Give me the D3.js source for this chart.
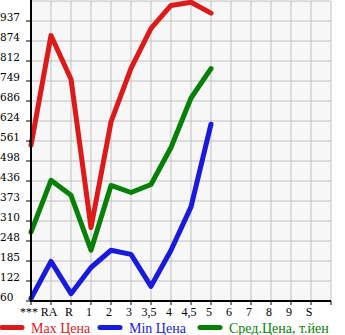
<!DOCTYPE html>
<html>
<head>
<meta charset="utf-8">
<script src="https://cdn.jsdelivr.net/npm/d3@7"></script>
<style>
  body { margin: 0; background: #fff; }
  text { font-family: "Liberation Serif", "DejaVu Serif", serif; }
</style>
</head>
<body>
<div id="chart"></div>
<script>
// categories on the x axis
var categories = ["***", "RA", "R", "1", "2", "3", "3,5", "4", "4,5", "5", "6", "7", "8", "9", "S"];
// y tick labels as printed
var yTickLabels = ["60", "122", "185", "248", "310", "373", "436", "498", "561", "624", "686", "749", "812", "874", "937"];

// series (only the first 10 categories have values)
var maxPrice = [548, 892, 755, 290, 621, 789, 914, 986, 996, 962];
var minPrice = [68, 184, 83, 165, 219, 206, 106, 219, 355, 614];
var avgPrice = [276, 438, 391, 219, 422, 400, 425, 541, 696, 788];

var seriesNames = ["Max Цена", "Min Цена", "Сред.Цена, т.йен"];
var seriesColors = ["#dd1a1a", "#1a1add", "#068006"];

var margin = {top: 1, left: 31},
    width = 300,
    height = 300;

var svg = d3.select("#chart").append("svg")
    .attr("width", 345)
    .attr("height", 335);

var g = svg.append("g")
    .attr("transform", "translate(" + margin.left + "," + margin.top + ")");

var x = d3.scalePoint().domain(categories).range([0, 280]);
var y = d3.scaleLinear().domain([60, 1000]).range([height, 0]);
var yTicks = d3.range(15).map(function(i) { return 60 + i * (940 / 15); });

// plot background
g.append("rect")
    .attr("width", width)
    .attr("height", height)
    .attr("fill", "#f7f7f7");

// grid
g.selectAll(".vgrid")
    .data(categories.slice(1).concat(["end"]))
  .enter().append("line")
    .attr("x1", function(d, i) { return 20 * (i + 1); })
    .attr("x2", function(d, i) { return 20 * (i + 1); })
    .attr("y1", 0)
    .attr("y2", height)
    .attr("stroke", "#c0c0c0")
    .attr("stroke-width", 1);

g.selectAll(".hgrid")
    .data(yTicks.slice(1).concat([1000]))
  .enter().append("line")
    .attr("x1", 0)
    .attr("x2", width)
    .attr("y1", function(d) { return y(d); })
    .attr("y2", function(d) { return y(d); })
    .attr("stroke", "#c0c0c0")
    .attr("stroke-width", 1);

// lines
var line = d3.line()
    .x(function(d, i) { return x(categories[i]); })
    .y(function(d) { return y(d); });

[maxPrice, minPrice, avgPrice].forEach(function(s, k) {
  g.append("path")
      .datum(s)
      .attr("fill", "none")
      .attr("stroke", seriesColors[k])
      .attr("stroke-width", 5)
      .attr("stroke-linejoin", "round")
      .attr("stroke-linecap", "round")
      .attr("d", line);
});

// y axis
g.append("line")
    .attr("x1", 0).attr("x2", 0)
    .attr("y1", -1).attr("y2", height)
    .attr("stroke", "#000").attr("stroke-width", 2);

g.selectAll(".ytick")
    .data(yTicks)
  .enter().append("line")
    .attr("x1", -5).attr("x2", 0)
    .attr("y1", function(d) { return y(d); })
    .attr("y2", function(d) { return y(d); })
    .attr("stroke", "#000").attr("stroke-width", 1);

g.selectAll(".ylabel")
    .data(yTicks)
  .enter().append("text")
    .attr("x", -margin.left)
    .attr("y", function(d) { return y(d); })
    .attr("font-size", 10.5)
    .style("font-family", "'DejaVu Serif', serif")
    .attr("fill", "#000")
    .text(function(d, i) { return yTickLabels[i]; });

// x axis
g.append("line")
    .attr("x1", -1).attr("x2", width)
    .attr("y1", height).attr("y2", height)
    .attr("stroke", "#000").attr("stroke-width", 2);

g.selectAll(".xtick")
    .data(categories.concat(["end"]))
  .enter().append("line")
    .attr("x1", function(d, i) { return 20 * i; })
    .attr("x2", function(d, i) { return 20 * i; })
    .attr("y1", height).attr("y2", height + 4)
    .attr("stroke", "#000").attr("stroke-width", 1);

g.selectAll(".xlabel")
    .data(categories)
  .enter().append("text")
    .attr("x", function(d) { return x(d) - 2; })
    .attr("y", height + 15)
    .attr("text-anchor", "middle")
    .attr("font-size", 12)
    .attr("fill", "#000")
    .text(function(d) { return d; });

// legend
var legendX = [0, 98, 198];
var legend = svg.selectAll(".legend")
    .data(seriesNames)
  .enter().append("g")
    .attr("transform", function(d, i) { return "translate(" + legendX[i] + ",327.5)"; });

legend.append("line")
    .attr("x1", 2).attr("x2", 22)
    .attr("y1", 0).attr("y2", 0)
    .attr("stroke", function(d, i) { return seriesColors[i]; })
    .attr("stroke-width", 5)
    .attr("stroke-linecap", "round");

legend.append("text")
    .attr("x", 31)
    .attr("y", 5)
    .attr("font-size", 14)
    .attr("fill", function(d, i) { return seriesColors[i]; })
    .text(function(d) { return d; });
</script>
</body>
</html>
